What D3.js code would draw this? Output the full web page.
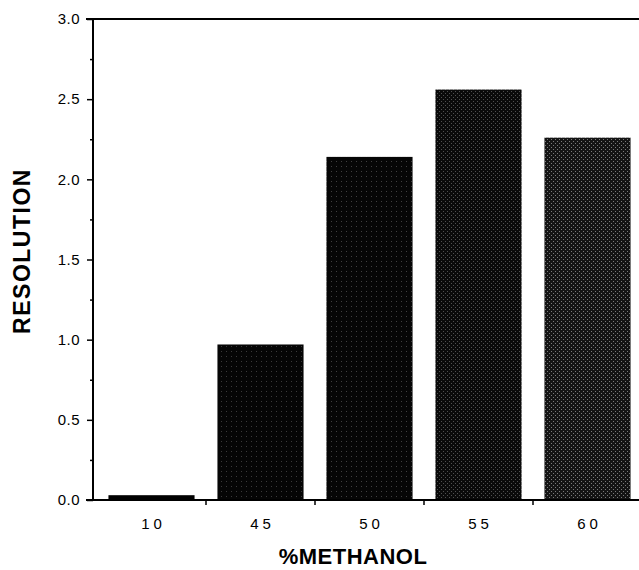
<!DOCTYPE html>
<html><head><meta charset="utf-8">
<script src="https://cdn.jsdelivr.net/npm/d3@7"></script>
<style>body{margin:0;background:#fff}svg{display:block}</style>
</head><body>
<script>
const categories = ["10","45","50","55","60"];
const resolution = [0.03, 0.97, 2.14, 2.56, 2.26];
const yTicks = [0, 0.5, 1.0, 1.5, 2.0, 2.5, 3.0];
const yMinorTicks = [0.25, 0.75, 1.25, 1.75, 2.25, 2.75];
const barShades = ["#000000","#050505","#060606","#0a0a0a","#141414"];
const dotShades = [null, "#3a3a3a", "#404040", "#505050", "#7a7a7a"];

const W = 639, H = 570;
const FONT = "Liberation Sans, Arial, Helvetica, sans-serif";
const svg = d3.select("body").append("svg").attr("width", W).attr("height", H);

const x = d3.scaleBand().domain(categories).range([97, 642]).paddingInner(0.21).paddingOuter(0.105);
const y = d3.scaleLinear().domain([0, 3]).range([500, 19]);

const defs = svg.append("defs");
barShades.forEach((c, i) => {
  const s = i >= 3 ? 4 : 5;
  const p = defs.append("pattern").attr("id", "pat" + i).attr("patternUnits", "userSpaceOnUse")
    .attr("width", s).attr("height", s);
  p.append("rect").attr("width", s).attr("height", s).attr("fill", c);
  if (dotShades[i]) {
    p.append("rect").attr("x", 1).attr("y", 1).attr("width", 1).attr("height", 1).attr("fill", dotShades[i]);
    if (i >= 3) p.append("rect").attr("x", 3).attr("y", 3).attr("width", 1).attr("height", 1).attr("fill", dotShades[i]);
  }
});

svg.append("g").selectAll("rect").data(categories).join("rect")
  .attr("x", d => x(d))
  .attr("width", x.bandwidth())
  .attr("y", (d, i) => y(resolution[i]))
  .attr("height", (d, i) => y(0) - y(resolution[i]))
  .attr("fill", (d, i) => "url(#pat" + i + ")");

// y axis
const yAxis = svg.append("g").attr("transform", "translate(93,0)")
  .call(d3.axisLeft(y).tickValues(yTicks).tickFormat(d3.format(".1f")).tickSize(6).tickPadding(7));
yAxis.select(".domain").remove();
yAxis.selectAll("text").attr("font-family", FONT).attr("font-size", 15).attr("letter-spacing", "0.5px").attr("fill", "#000");
yAxis.selectAll("line").attr("stroke", "#000").attr("stroke-width", 1.5);
const yMinor = svg.append("g").attr("transform", "translate(93,0)")
  .call(d3.axisLeft(y).tickValues(yMinorTicks).tickFormat("").tickSize(3));
yMinor.select(".domain").remove();
yMinor.selectAll("line").attr("stroke", "#000").attr("stroke-width", 1.5);

// axis lines
svg.append("line").attr("x1", 93).attr("x2", 93).attr("y1", y(3)).attr("y2", y(0) + 1).attr("stroke", "#000").attr("stroke-width", 2);
svg.append("line").attr("x1", 86).attr("x2", 639).attr("y1", y(0)).attr("y2", y(0)).attr("stroke", "#000").attr("stroke-width", 2);
svg.append("line").attr("x1", 86).attr("x2", 639).attr("y1", y(3)).attr("y2", y(3)).attr("stroke", "#000").attr("stroke-width", 2);

// x axis
const xAxis = svg.append("g").attr("transform", "translate(0,500)")
  .call(d3.axisBottom(x).tickSize(0).tickPadding(18));
xAxis.select(".domain").remove();
xAxis.selectAll("text").attr("font-family", FONT).attr("font-size", 15)
  .attr("letter-spacing", "4px").attr("dx", "2px").attr("fill", "#000");
// boundary ticks between categories
svg.append("g").selectAll("line").data(categories.slice(1)).join("line")
  .attr("x1", d => x(d) - x.step() * x.paddingInner() / 2)
  .attr("x2", d => x(d) - x.step() * x.paddingInner() / 2)
  .attr("y1", 500).attr("y2", 505).attr("stroke", "#000").attr("stroke-width", 1.5);

svg.append("text").attr("x", 353).attr("y", 564).attr("text-anchor", "middle")
  .attr("font-family", FONT).attr("font-weight", "bold").attr("font-size", 22)
  .attr("letter-spacing", "0.5px").attr("fill", "#000").text("%METHANOL");
svg.append("text").attr("transform", "translate(30,251) rotate(-90)").attr("text-anchor", "middle")
  .attr("font-family", FONT).attr("font-weight", "bold").attr("font-size", 23)
  .attr("letter-spacing", "1.5px").attr("fill", "#000").text("RESOLUTION");
</script>
</body></html>
